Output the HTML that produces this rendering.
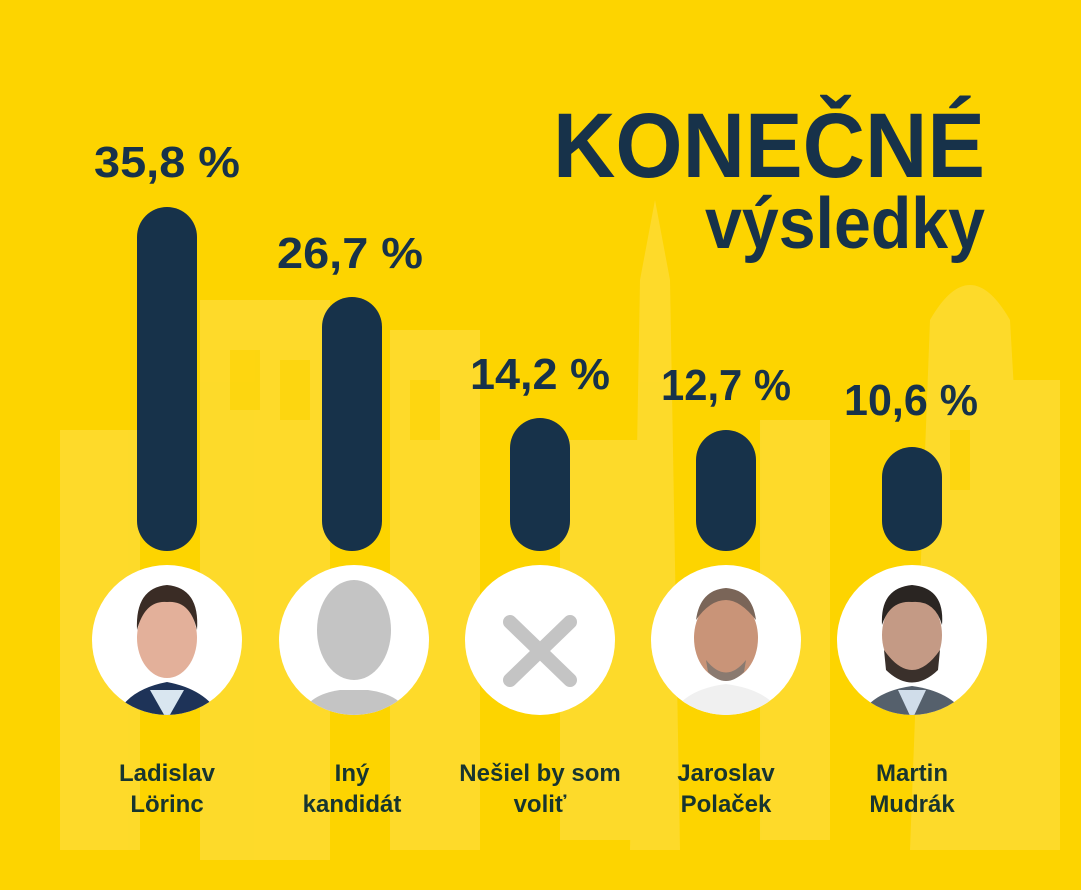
<!DOCTYPE html>
<html><head><meta charset="utf-8"><style>
html,body{margin:0;padding:0;background:#FDD400;}
svg{display:block}
</style></head><body>
<svg width="1081" height="890" viewBox="0 0 1081 890" xmlns="http://www.w3.org/2000/svg" font-family="Liberation Sans, sans-serif" font-weight="bold">
<rect width="1081" height="890" fill="#FDD400"/>
<g fill="#FEE36A" opacity="0.4">
<rect x="200" y="300" width="130" height="560"/>
<rect x="390" y="330" width="90" height="520"/>
<rect x="60" y="430" width="80" height="420"/>
<polygon points="640,280 655,200 670,280 680,850 630,850"/>
<rect x="760" y="420" width="70" height="420"/>
<path d="M930,320 Q970,250 1010,320 L1040,850 L910,850 Z"/>
<rect x="980" y="380" width="80" height="470"/>
<rect x="560" y="440" width="80" height="400"/>
</g>
<g fill="#FDD400" opacity="0.6">
<rect x="230" y="350" width="30" height="60"/><rect x="280" y="360" width="30" height="60"/>
<rect x="410" y="380" width="30" height="60"/><rect x="950" y="430" width="20" height="60"/>
</g>
<text x="985" y="177" text-anchor="end" font-size="92" fill="#17324A" textLength="432" lengthAdjust="spacingAndGlyphs">KONEČNÉ</text>
<text x="985" y="248" text-anchor="end" font-size="72" fill="#17324A" textLength="280" lengthAdjust="spacingAndGlyphs">výsledky</text>
<g fill="#17324A">
<rect x="137" y="207" width="60" height="344" rx="30"/>
<rect x="322" y="297" width="60" height="254" rx="30"/>
<rect x="510" y="418" width="60" height="133" rx="30"/>
<rect x="696" y="430" width="60" height="121" rx="30"/>
<rect x="882" y="447" width="60" height="104" rx="30"/>
</g>
<g fill="#17324A" font-size="44" text-anchor="middle">
<text x="167" y="177" textLength="146" lengthAdjust="spacingAndGlyphs">35,8 %</text>
<text x="350" y="268" textLength="146" lengthAdjust="spacingAndGlyphs">26,7 %</text>
<text x="540" y="389" textLength="140" lengthAdjust="spacingAndGlyphs">14,2 %</text>
<text x="726" y="400" textLength="130" lengthAdjust="spacingAndGlyphs">12,7 %</text>
<text x="911" y="415" textLength="134" lengthAdjust="spacingAndGlyphs">10,6 %</text>
</g>
<defs>
<clipPath id="c1"><circle cx="167" cy="640" r="75"/></clipPath>
<clipPath id="c2"><circle cx="354" cy="640" r="75"/></clipPath>
<clipPath id="c4"><circle cx="726" cy="640" r="75"/></clipPath>
<clipPath id="c5"><circle cx="912" cy="640" r="75"/></clipPath>
</defs>
<g fill="#fff">
<circle cx="167" cy="640" r="75"/><circle cx="354" cy="640" r="75"/><circle cx="540" cy="640" r="75"/><circle cx="726" cy="640" r="75"/><circle cx="912" cy="640" r="75"/>
</g>
<g clip-path="url(#c1)">
<path d="M115,720 Q125,690 167,682 Q209,690 222,720 Z" fill="#1E3358"/>
<path d="M150,690 L167,720 L184,690 Z" fill="#D9E6F0"/>
<ellipse cx="167" cy="638" rx="30" ry="40" fill="#E3B09A"/>
<path d="M137,630 Q135,588 167,585 Q200,588 197,630 Q190,600 167,602 Q145,600 137,630Z" fill="#3A2C25"/>
</g>
<g clip-path="url(#c2)" fill="#C4C4C4">
<ellipse cx="354" cy="630" rx="37" ry="50"/>
<path d="M300,720 Q305,695 340,690 L368,690 Q405,695 410,720 Z"/>
</g>
<g stroke="#C4C4C4" stroke-width="14" stroke-linecap="round">
<line x1="510" y1="622" x2="570" y2="680"/><line x1="570" y1="622" x2="510" y2="680"/>
</g>
<g clip-path="url(#c4)">
<path d="M670,720 Q680,690 726,684 Q772,690 785,720 Z" fill="#F0F0F0"/>
<ellipse cx="726" cy="638" rx="32" ry="42" fill="#C99478"/>
<path d="M696,620 Q700,590 726,588 Q752,590 756,620 Q740,600 726,600 Q710,600 696,620Z" fill="#7A6558"/>
<path d="M706,660 Q726,685 746,660 L744,672 Q726,690 708,672Z" fill="#8A7A70"/>
</g>
<g clip-path="url(#c5)">
<path d="M858,720 Q870,692 912,686 Q955,692 968,720 Z" fill="#55606C"/>
<path d="M898,690 L912,720 L926,690 Z" fill="#D0DDEA"/>
<ellipse cx="912" cy="635" rx="30" ry="40" fill="#C49A85"/>
<path d="M882,625 Q880,588 912,585 Q945,588 942,625 Q935,600 912,602 Q890,600 882,625Z" fill="#2A2522"/>
<path d="M884,650 Q912,690 940,650 L938,670 Q912,695 886,670Z" fill="#3A302B"/>
</g>
<g fill="#173530" font-size="24" text-anchor="middle">
<text x="167" y="781">Ladislav</text><text x="167" y="812">Lörinc</text>
<text x="352" y="781">Iný</text><text x="352" y="812">kandidát</text>
<text x="540" y="781">Nešiel by som</text><text x="540" y="812">voliť</text>
<text x="726" y="781">Jaroslav</text><text x="726" y="812">Polaček</text>
<text x="912" y="781">Martin</text><text x="912" y="812">Mudrák</text>
</g>
</svg>
</body></html>
